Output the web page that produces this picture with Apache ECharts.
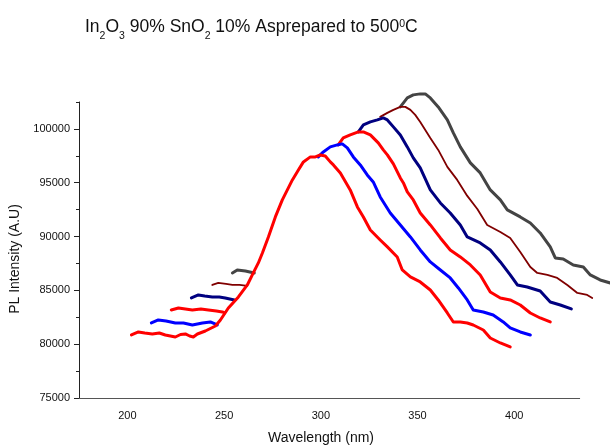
<!DOCTYPE html>
<html><head><meta charset="utf-8">
<script src="https://cdn.jsdelivr.net/npm/echarts@6/dist/echarts.min.js"></script>
<style>html,body{margin:0;padding:0;background:#fff}#c{width:610px;height:445px}</style>
</head><body><div id="c"></div>
<script>
// ---- data (wavelength nm, PL intensity) ----
const xTickLabels = [200, 250, 300, 350, 400];
const yTickLabels = [75000, 80000, 85000, 90000, 95000, 100000];
const xAxisStart = 175, xAxisEnd = 434;   // drawn extent of the bottom axis line

const red1 = [[202.1,80855],[205.7,81134],[209.0,81041],[212.9,80948],[216.5,81041],[219.6,80855],[224.8,80669],[227.5,80900],[230.0,80948],[232.2,80760],[234.1,80669],[236.2,80948],[240.3,81227],[245.5,81692],[248.1,82249],[252.2,83365],[257.4,84387],[262.0,85502],[265.1,86618],[267.7,87547],[269.8,88476],[272.9,89963],[276.5,91822],[280.1,93402],[282.7,94332],[285.3,95261],[288.4,96190],[291.0,96934],[294.6,97399],[297.2,97399],[299.7,97584],[302.3,97491],[304.9,96934],[306.5,96655],[310.1,95912],[311.6,95447],[315.2,94332],[318.9,92752],[322.0,91822],[325.6,90614],[330.7,89685],[334.4,89034],[339.5,88105],[342.1,86896],[346.3,86246],[351.4,85781],[356.6,85038],[360.7,84108],[365.4,82900],[368.5,82063],[372.1,82063],[375.7,81971],[378.8,81785],[384.0,81320],[387.6,80576],[392.8,80112],[397.9,79740]];

const blueLow = [[212.4,81971],[216.0,82249],[220.0,82156],[224.8,81971],[229.0,81971],[233.6,81785],[238.8,81971],[242.9,82063],[246.5,81785]];
const blueHigh = [[298.7,97399],[301.3,97863],[304.9,98328],[308.5,98514],[311.1,98607],[313.7,98235],[316.8,97399],[320.4,96655],[324.0,95726],[327.1,95075],[330.7,93681],[335.9,92194],[341.1,91079],[346.3,89963],[351.4,88755],[356.6,87640],[361.8,86896],[366.9,86153],[371.1,85223],[375.7,84108],[378.8,83179],[384.0,82993],[389.1,82714],[394.3,82063],[397.9,81506],[403.1,81134],[408.3,80855]];

const red2Low = [[222.7,83179],[226.4,83365],[230.0,83272],[233.6,83179],[238.0,83272],[241.9,83179],[246.0,83086],[249.1,82993],[250.3,82900]];
const red2High = [[309.0,98514],[311.6,99164],[315.2,99443],[319.4,99722],[322.0,99722],[325.6,99443],[329.7,98700],[332.3,98049],[334.4,97584],[337.5,96748],[341.1,95447],[342.7,94982],[344.7,94146],[347.8,93402],[351.4,92194],[356.6,91079],[361.8,89870],[366.9,88755],[372.1,88105],[377.3,87361],[382.4,86432],[387.6,84852],[392.8,84294],[397.9,84108],[403.1,83643],[408.3,82900],[413.4,82435],[418.6,82063]];

const navyLow = [[233.1,84294],[236.7,84573],[240.0,84480],[243.9,84387],[247.5,84387],[250.6,84294],[255.3,84108]];
const navyHigh = [[319.4,99722],[322.0,100373],[325.6,100651],[329.2,100837],[332.3,101023],[334.4,100837],[337.5,100187],[341.1,99443],[344.7,98328],[347.8,97306],[351.4,96376],[356.6,94332],[361.8,93123],[366.9,92194],[372.1,91079],[375.7,89963],[382.4,89406],[387.6,88755],[392.8,87640],[397.9,86432],[401.6,85502],[406.7,85316],[413.4,84945],[418.6,83922],[423.8,83643],[429.5,83272]];

const maroonLow = [[243.9,85502],[247.0,85688],[251.0,85595],[254.3,85502],[258.0,85502],[262.0,85409]];
const maroonHigh = [[330.7,101116],[334.4,101488],[337.5,101767],[341.1,102046],[343.7,102046],[346.3,101767],[348.8,101302],[351.4,100651],[356.6,99164],[360.7,98049],[365.4,96469],[370.5,95261],[375.7,93774],[380.9,92566],[386.0,91079],[392.8,90428],[397.9,89870],[403.1,88569],[408.3,87175],[411.9,86618],[417.1,86432],[422.2,86153],[427.4,85502],[432.6,84759],[437.7,84573],[440.3,84294]];

const grayLow = [[254.3,86618],[256.8,86896],[261.0,86803],[265.6,86618]];
const grayHigh = [[341.1,102046],[344.7,102882],[347.8,103161],[351.4,103254],[354.0,103254],[356.6,102882],[360.7,102046],[365.4,100837],[368.5,99629],[372.1,98328],[377.3,96841],[382.4,95912],[387.6,94332],[392.8,93402],[396.4,92473],[403.1,91822],[408.3,91265],[413.4,90335],[418.6,89034],[421.2,88012],[425.3,87919],[430.5,87361],[435.7,87175],[439.3,86432],[444.4,85967],[449.6,85688]];

const FONT = "'Liberation Sans', Arial, sans-serif";
function line(data, color, width) {
  return { type: 'line', data: data, showSymbol: false, symbol: 'none', clip: false,
    lineStyle: { color: color, width: width, join: 'round', cap: 'round' }, silent: true, animation: false };
}
const red1Series = line(red1, '#FF0000', 3);
// bottom axis line, limited to its own extent (the curves run past it)
red1Series.markLine = {
  silent: true, symbol: ['none', 'none'], animation: false,
  label: { show: false },
  lineStyle: { color: '#555', width: 1, type: 'solid' },
  data: [[{ coord: [xAxisStart, yTickLabels[0]] }, { coord: [xAxisEnd, yTickLabels[0]] }]]
};
const chart = echarts.init(document.getElementById('c'), null, { renderer: 'canvas' });
chart.setOption({
  backgroundColor: '#fff',
  animation: false,
  title: {
    text: '{n|In}{sub|2}{n|O}{sub|3}{n| 90% SnO}{sub|2}{n| 10% Asprepared to 500}{sup|0}{n|C}',
    left: 80, top: 8,
    textStyle: {
      fontFamily: FONT, color: '#111', fontWeight: 'normal',
      rich: {
        n: { fontSize: 17.5, fontFamily: FONT, color: '#111', fontWeight: 'normal' },
        sub: { fontSize: 10.5, fontFamily: FONT, color: '#111', fontWeight: 'normal', padding: [18, 0, 0, 0] },
        sup: { fontSize: 10.5, fontFamily: FONT, color: '#111', fontWeight: 'normal', padding: [0, 0, 6, 0] }
      }
    }
  },
  grid: { left: 79, right: -1, top: 102, bottom: 47, containLabel: false, outerBoundsMode: 'none' },
  xAxis: {
    type: 'value', min: xAxisStart, max: 450,
    name: 'Wavelength (nm)', nameLocation: 'middle', nameGap: 33,
    nameTextStyle: { fontFamily: FONT, fontSize: 14, color: '#111', padding: [0, 48, 0, 0] },
    axisLine: { show: false },
    axisTick: { show: false },
    splitLine: { show: false },
    axisLabel: { customValues: xTickLabels, fontFamily: FONT, fontSize: 11, color: '#111', margin: 12 }
  },
  yAxis: [{
    type: 'value', min: 75000, max: 102500, interval: 2500,
    name: 'PL Intensity (A.U)', nameLocation: 'middle', nameGap: 50, nameRotate: 90,
    nameTextStyle: { fontFamily: FONT, fontSize: 14, color: '#111', padding: [0, 18, 0, 0] },
    axisLine: { show: true, lineStyle: { color: '#222', width: 1 } },
    axisTick: { show: true, customValues: yTickLabels, length: 5, lineStyle: { color: '#222' } },
    splitLine: { show: false },
    axisLabel: { customValues: yTickLabels, formatter: v => String(v), fontFamily: FONT, fontSize: 11, color: '#111', margin: 9 }
  }, {
    type: 'value', min: 75000, max: 102500, interval: 2500, position: 'left',
    axisLine: { show: false },
    axisTick: { show: true, length: 3, lineStyle: { color: '#222' } },
    splitLine: { show: false },
    axisLabel: { show: false }
  }],
  series: [
    line(grayHigh, '#444444', 3), line(grayLow, '#444444', 3),
    line(maroonHigh, '#800000', 1.8), line(maroonLow, '#800000', 1.8),
    line(navyHigh, '#000080', 3), line(navyLow, '#000080', 3),
    line(red2High, '#FF0000', 3), line(red2Low, '#FF0000', 3),
    line(blueHigh, '#0000FF', 3), line(blueLow, '#0000FF', 3),
    red1Series
  ]
});
</script></body></html>
